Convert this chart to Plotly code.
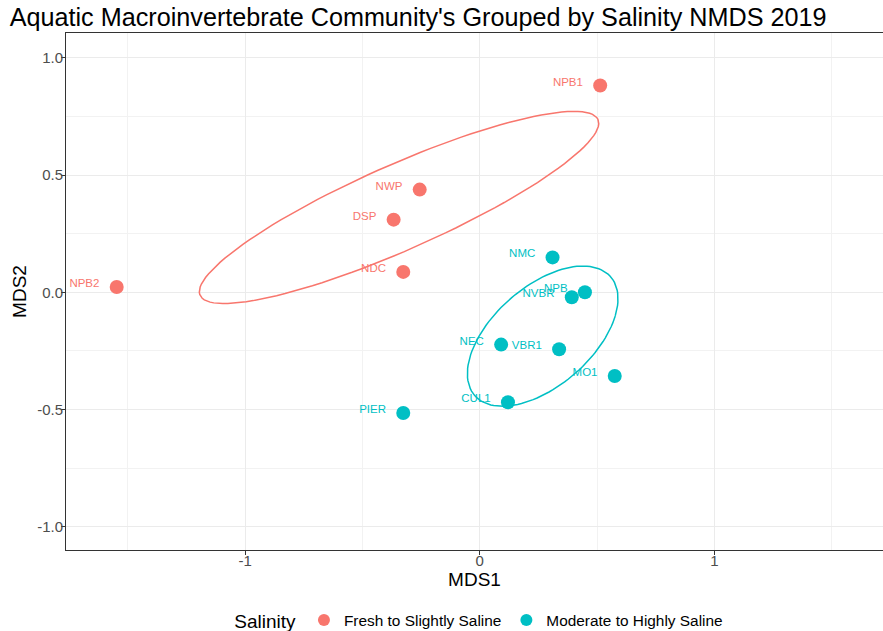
import numpy as np
import plotly.graph_objects as go

# ---- data ----
sites = ["NPB1", "NWP", "DSP", "NDC", "NPB2",
         "NMC", "NPB", "NVBR", "NEC", "VBR1", "MO1", "CUL1", "PIER"]
mds1 = [0.513, -0.256, -0.367, -0.326, -1.547,
        0.310, 0.448, 0.392, 0.091, 0.338, 0.575, 0.120, -0.326]
mds2 = [0.882, 0.438, 0.310, 0.087, 0.023,
        0.149, 0.0, -0.021, -0.223, -0.243, -0.357, -0.469, -0.515]
salinity = ["Fresh to Slightly Saline"] * 5 + ["Moderate to Highly Saline"] * 8

groups = ["Fresh to Slightly Saline", "Moderate to Highly Saline"]
colors = {"Fresh to Slightly Saline": "#F8766D", "Moderate to Highly Saline": "#00BFC4"}

# group ellipses: centre, half-width, half-height, correlation
ell_center_x = [-0.344, 0.268]
ell_center_y = [0.362, -0.187]
ell_half_w = [0.851, 0.321]
ell_half_h = [0.410, 0.299]
ell_corr = [0.876, 0.535]

x_ticks = [-1, 0, 1]
y_ticks = [-1.0, -0.5, 0.0, 0.5, 1.0]

label_nudge_y = 0.012  # small upward nudge of site labels

FONT = "Liberation Sans, Arial, sans-serif"


def ellipse_path(cx, cy, hw, hh, r, npts=120):
    S = np.array([[hw * hw, r * hw * hh], [r * hw * hh, hh * hh]])
    vals, vecs = np.linalg.eigh(S)
    root = vecs @ np.diag(np.sqrt(vals)) @ vecs.T
    t = np.linspace(0, 2 * np.pi, npts)
    circ = np.column_stack([np.cos(t), np.sin(t)])
    pts = np.array([cx, cy]) + circ @ root
    return pts[:, 0], pts[:, 1]


fig = go.Figure()

x_arr = np.array(mds1)
y_arr = np.array(mds2)
sal = np.array(salinity)
names = np.array(sites)

# ellipses
for i, g in enumerate(groups):
    ex, ey = ellipse_path(ell_center_x[i], ell_center_y[i], ell_half_w[i],
                          ell_half_h[i], ell_corr[i])
    fig.add_trace(go.Scatter(x=ex, y=ey, mode="lines",
                             line=dict(color=colors[g], width=1.5),
                             showlegend=False, hoverinfo="skip"))

# labels (invisible markers so text is offset to the left of the point)
for g in groups:
    m = sal == g
    fig.add_trace(go.Scatter(x=x_arr[m], y=y_arr[m] + label_nudge_y, mode="markers+text",
                             text=names[m], textposition="middle left",
                             marker=dict(size=26, opacity=0),
                             textfont=dict(color=colors[g], size=11.5, family=FONT),
                             showlegend=False, hoverinfo="skip"))

# points
for g in groups:
    m = sal == g
    fig.add_trace(go.Scatter(x=x_arr[m], y=y_arr[m], mode="markers", name=g,
                             marker=dict(color=colors[g], size=14)))

axis_common = dict(
    showline=True, linecolor="#333333", linewidth=1, mirror=True,
    ticks="outside", ticklen=4, tickcolor="#333333", tickwidth=1,
    showgrid=True, gridcolor="#EBEBEB", gridwidth=1,
    zeroline=False, automargin=False,
    tickfont=dict(size=15, color="#4D4D4D"),
)

fig.update_layout(
    width=883, height=631,
    paper_bgcolor="white", plot_bgcolor="white",
    font=dict(family=FONT, color="black"),
    margin=dict(l=66, r=0, t=33, b=81),
    title=dict(text="Aquatic Macroinvertebrate Community's Grouped by Salinity NMDS 2019",
               x=0.011, xanchor="left", y=0.972, yanchor="middle",
               font=dict(size=25.2, color="black")),
    xaxis=dict(range=[-1.763, 1.718], tickvals=x_ticks, ticktext=[str(v) for v in x_ticks],
               minor=dict(dtick=0.5, tick0=0, showgrid=True, gridcolor="#F2F2F2", gridwidth=0.7),
               title=dict(text="MDS1", font=dict(size=19), standoff=3),
               ticklabelstandoff=-7,
               **axis_common),
    yaxis=dict(range=[-1.099, 1.106], tickvals=y_ticks, ticktext=[f"{v:.1f}" for v in y_ticks],
               minor=dict(dtick=0.25, tick0=0, showgrid=True, gridcolor="#F2F2F2", gridwidth=0.7),
               title=dict(text="MDS2", font=dict(size=19), standoff=5),
               ticklabelstandoff=-5,
               **axis_common),
    legend=dict(orientation="h", x=0.507, xanchor="center",
                yref="container", y=0.0158, yanchor="middle",
                title=dict(text="Salinity", font=dict(size=19)),
                font=dict(size=15.4), itemsizing="constant", bgcolor="rgba(0,0,0,0)"),
)

fig.write_html("out.html", post_script="document.body.style.margin='0';",
               config={"displayModeBar": False})
